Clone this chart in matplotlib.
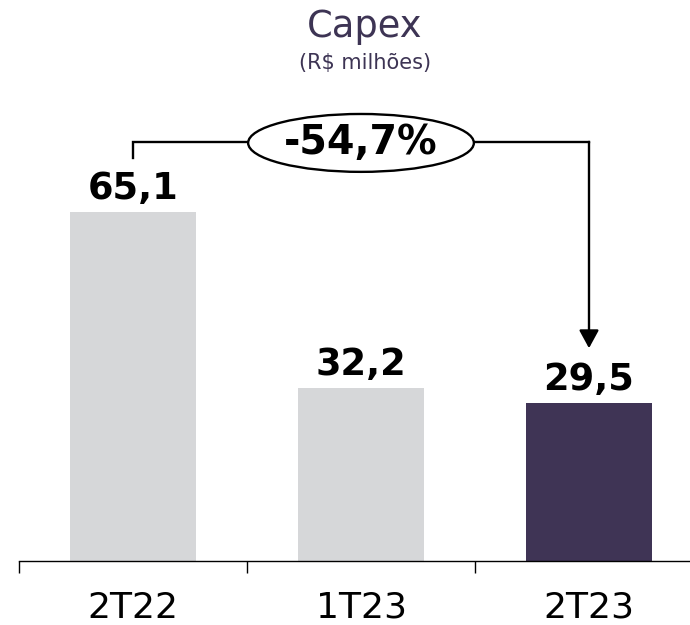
import matplotlib
matplotlib.use('Agg')
import matplotlib.pyplot as plt
from matplotlib.patches import Ellipse

# data
categories = ['2T22', '1T23', '2T23']
capex = [65.1, 32.2, 29.5]
value_labels = ['65,1', '32,2', '29,5']
change_label = '-54,7%'

GRAY = '#D6D7D9'
PURPLE = '#3F3455'
TITLE_COLOR = '#3D3454'
bar_colors = [GRAY, GRAY, PURPLE]

plt.rcParams['font.family'] = ['DejaVu Sans']

fig = plt.figure(figsize=(6.9, 6.25), dpi=100)
# axes: baseline at y=561px, left edge at x=19px, runs to right edge
ax = fig.add_axes([19 / 690, 64 / 625, 671 / 690, 561 / 625])
ax.set_xlim(-0.5, -0.5 + 671 / 228)
ax.set_ylim(0, 561 / 5.36)

x = range(len(categories))
ax.bar(x, capex, width=0.553, color=bar_colors, zorder=2)

# value labels
for i, (v, lab) in enumerate(zip(capex, value_labels)):
    ax.annotate(lab, xy=(i, v), xytext=(0, 9.4), textcoords='offset points',
                ha='center', va='baseline', fontsize=26.5, fontweight='bold',
                color='black')

# category labels under the axis
for i, c in enumerate(categories):
    ax.annotate(c, xy=(i, 0), xycoords=('data', 'axes fraction'),
                xytext=(0, -41), textcoords='offset points',
                ha='center', va='baseline', fontsize=26, color='black')

# axis styling
for s in ['top', 'right', 'left']:
    ax.spines[s].set_visible(False)
ax.spines['bottom'].set_linewidth(1.0)
ax.spines['bottom'].set_color('black')
ax.set_yticks([])
ax.set_xticks([-0.5, 0.5, 1.5])
ax.set_xticklabels([])
ax.tick_params(axis='x', direction='out', length=8.6, width=1.0, color='black')

# change bracket
first, last = 0, len(capex) - 1
y_line = 78.2
ax.plot([first, first, last], [75.2, y_line, y_line], color='black', lw=1.7,
        solid_joinstyle='miter', zorder=3)
ax.annotate('', xy=(last, 39.7), xytext=(last, y_line),
            arrowprops=dict(arrowstyle='-|>,head_length=0.55,head_width=0.3',
                            lw=1.7, color='black', mutation_scale=20,
                            shrinkA=0, shrinkB=0), zorder=3)
ax.add_patch(Ellipse((1.0, 78.0), width=0.99, height=10.8, facecolor='white',
                     edgecolor='black', lw=1.7, zorder=4))
ax.text(1.0, 78.0, change_label, ha='center', va='center', fontsize=28.5,
        fontweight='bold', color='black', zorder=5)

# titles
fig.text(365 / 690, 1 - 37 / 625, 'Capex', ha='center', va='baseline',
         fontsize=26.5, color=TITLE_COLOR)
fig.text(365 / 690, 1 - 69 / 625, '(R$ milhões)', ha='center', va='baseline',
         fontsize=15, color=TITLE_COLOR)

fig.savefig('out.png', dpi=100)
